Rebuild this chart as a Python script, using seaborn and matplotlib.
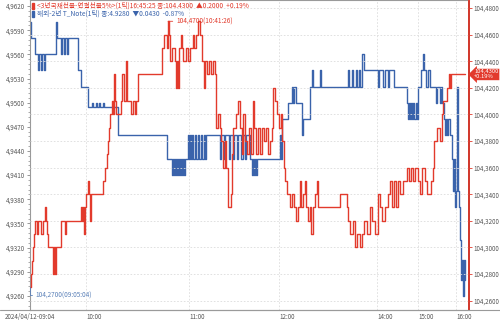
import numpy as np
import pandas as pd
import seaborn as sns
import matplotlib
matplotlib.use("Agg")
import matplotlib.pyplot as plt
from matplotlib import transforms
from matplotlib.patches import Rectangle

# ---- data (x = tick index along the intraday axis) ----
blue_x = [0, 1, 5, 8, 9, 11, 12, 14, 15, 26, 27, 31, 32, 34, 35, 37, 38, 48, 51, 58,
          62, 63, 66, 67, 69, 70, 73, 74, 88, 137, 142, 143, 144, 145, 146, 147, 148, 149, 150,
          151, 152, 153, 154, 155, 158, 159, 160, 161, 162, 163, 165, 166, 168, 169, 171, 172,
          174, 175, 176, 190, 191, 194, 195, 199, 200, 203, 204, 207, 208, 211, 213, 215, 216,
          220, 222, 223, 224, 225, 226, 227, 250, 251, 252, 258, 262, 263, 264, 266, 272, 273,
          280, 282, 283, 290, 291, 318, 319, 322, 323, 326, 327, 329, 330, 332, 334, 348, 349,
          353, 355, 358, 359, 364, 377, 378, 379, 380, 381, 382, 383, 384, 386, 387, 388, 391,
          393, 394, 396, 398, 400, 406, 407, 410, 411, 412, 414, 415, 416, 417, 418, 420, 422,
          423, 424, 425, 426, 427, 428, 429, 430, 431, 432, 433, 434, 435]
blue_y = [4.9600, 4.9580, 4.9560, 4.9540, 4.9560, 4.9540, 4.9560, 4.9540, 4.9560, 4.9600,
          4.9580, 4.9560, 4.9580, 4.9560, 4.9580, 4.9560, 4.9580, 4.9540, 4.9520, 4.9495,
          4.9500, 4.9495, 4.9500, 4.9495, 4.9500, 4.9495, 4.9500, 4.9495, 4.9460, 4.9430,
          4.9410, 4.9430, 4.9410, 4.9430, 4.9410, 4.9430, 4.9410, 4.9430, 4.9410, 4.9430,
          4.9410, 4.9430, 4.9410, 4.9430, 4.9460, 4.9430, 4.9460, 4.9430, 4.9460, 4.9430,
          4.9460, 4.9430, 4.9460, 4.9430, 4.9460, 4.9430, 4.9460, 4.9430, 4.9460, 4.9430,
          4.9460, 4.9430, 4.9460, 4.9430, 4.9460, 4.9430, 4.9460, 4.9430, 4.9460, 4.9430,
          4.9460, 4.9430, 4.9460, 4.9430, 4.9410, 4.9430, 4.9410, 4.9430, 4.9410, 4.9430,
          4.9460, 4.9430, 4.9480, 4.9500, 4.9520, 4.9500, 4.9520, 4.9500, 4.9460, 4.9480,
          4.9520, 4.9540, 4.9520, 4.9540, 4.9520, 4.9540, 4.9520, 4.9540, 4.9520, 4.9540,
          4.9520, 4.9540, 4.9520, 4.9560, 4.9540, 4.9520, 4.9540, 4.9520, 4.9540, 4.9520,
          4.9540, 4.9520, 4.9500, 4.9480, 4.9500, 4.9480, 4.9500, 4.9480, 4.9500, 4.9480,
          4.9500, 4.9480, 4.9520, 4.9540, 4.9560, 4.9540, 4.9520, 4.9540, 4.9520, 4.9500,
          4.9520, 4.9500, 4.9520, 4.9500, 4.9480, 4.9460, 4.9480, 4.9460, 4.9480, 4.9460,
          4.9430, 4.9390, 4.9430, 4.9370, 4.9390, 4.9520, 4.9390, 4.9370, 4.9330, 4.9280,
          4.9305, 4.9260, 4.9305, 4.9280]

red_x = [0, 1, 2, 3, 4, 5, 7, 8, 11, 13, 15, 16, 17, 18, 23, 24, 25, 26, 31, 35,
         36, 51, 52, 53, 54, 55, 56, 58, 59, 60, 61, 73, 75, 77, 78, 79, 80, 82, 83, 84,
         85, 86, 91, 92, 94, 96, 97, 100, 101, 103, 105, 106, 108, 132, 134, 137, 138, 139,
         140, 142, 145, 146, 147, 148, 149, 151, 152, 153, 156, 158, 160, 163, 164, 166, 168,
         170, 172, 174, 175, 177, 179, 181, 183, 185, 186, 188, 190, 191, 193, 195, 196, 198,
         201, 202, 203, 206, 208, 210, 212, 213, 215, 217, 219, 221, 223, 224, 226, 228, 230,
         232, 234, 236, 238, 240, 242, 243, 245, 247, 249, 251, 252, 254, 255, 257, 260, 262,
         264, 266, 268, 270, 271, 273, 275, 276, 278, 280, 281, 283, 285, 287, 288, 310, 317,
         318, 320, 323, 325, 327, 330, 332, 334, 337, 340, 342, 345, 348, 350, 352, 355, 358,
         360, 362, 364, 366, 368, 370, 373, 377, 379, 381, 383, 385, 388, 390, 392, 395, 397,
         401, 403, 404, 407, 410, 412, 413, 417, 419, 420, 421, 435]
red_y = [104.27, 104.28, 104.29, 104.30, 104.31, 104.32, 104.31, 104.32, 104.31, 104.32,
         104.33, 104.32, 104.31, 104.30, 104.28, 104.30, 104.28, 104.30, 104.32, 104.31,
         104.32, 104.33, 104.32, 104.33, 104.31, 104.33, 104.34, 104.35, 104.34, 104.32,
         104.34, 104.35, 104.36, 104.37, 104.38, 104.39, 104.40, 104.41, 104.40, 104.43,
         104.41, 104.40, 104.41, 104.43, 104.41, 104.44, 104.41, 104.41, 104.40, 104.41,
         104.40, 104.41, 104.43, 104.45, 104.46, 104.45, 104.47, 104.46, 104.44, 104.45,
         104.44, 104.42, 104.44, 104.42, 104.45, 104.46, 104.45, 104.44, 104.45, 104.44,
         104.45, 104.46, 104.45, 104.46, 104.47, 104.46, 104.44, 104.42, 104.44, 104.43,
         104.44, 104.43, 104.44, 104.43, 104.39, 104.40, 104.39, 104.38, 104.36, 104.38,
         104.36, 104.33, 104.34, 104.37, 104.39, 104.40, 104.41, 104.39, 104.37, 104.40,
         104.38, 104.37, 104.39, 104.37, 104.41, 104.39, 104.37, 104.39, 104.37, 104.39,
         104.38, 104.39, 104.37, 104.38, 104.39, 104.42, 104.41, 104.40, 104.39, 104.40,
         104.38, 104.36, 104.35, 104.34, 104.33, 104.34, 104.33, 104.32, 104.33, 104.35,
         104.33, 104.34, 104.35, 104.33, 104.32, 104.33, 104.31, 104.33, 104.34, 104.35,
         104.33, 104.34, 104.33, 104.32, 104.31, 104.32, 104.30, 104.31, 104.30, 104.31,
         104.32, 104.31, 104.33, 104.32, 104.31, 104.34, 104.33, 104.32, 104.33, 104.34,
         104.35, 104.33, 104.35, 104.33, 104.35, 104.34, 104.35, 104.36, 104.35, 104.36,
         104.35, 104.36, 104.35, 104.34, 104.36, 104.35, 104.34, 104.35, 104.36, 104.38,
         104.39, 104.38, 104.40, 104.41, 104.42, 104.43, 104.42, 104.43, 104.43]

tick_pos = [0, 56, 159, 249, 347, 388, 426]
tick_labels = ["2024/04/12-09:04", "10:00", "11:00", "12:00", "14:00", "15:00", "16:00"]
left_ticks = [4.9620, 4.9590, 4.9560, 4.9530, 4.9500, 4.9470, 4.9440, 4.9410,
              4.9380, 4.9350, 4.9320, 4.9290, 4.9260]
right_ticks = [104.48, 104.46, 104.44, 104.42, 104.40, 104.38, 104.36,
               104.34, 104.32, 104.30, 104.28, 104.26]

title_red = "<3년국채선물-연결선물5%>(1틱)16:45:25 종:104.4300  ▲0.2000  +0.19%"
title_blue = "해외-2년 T_Note(1틱) 종:4.9280  ▼0.0430  -0.87%"
max_label = "104,4700(10:41:26)"
min_label = "104,2700(09:05:04)"
last_label = "104,4300\n+0.19%"

RED = "#e23a2c"
BLUE = "#3a63ab"
TXT = "#555555"

sns.set_theme(style="white")
plt.rcParams["font.family"] = ["Noto Sans CJK KR", "DejaVu Sans"]

blue = pd.DataFrame({"x": blue_x, "y": blue_y})
red = pd.DataFrame({"x": red_x, "y": red_y})

fig = plt.figure(figsize=(5.0, 3.21), dpi=100)
ax = fig.add_axes([30 / 500, 11 / 321, 439 / 500, 310 / 321])
ax2 = ax.twinx()

sns.lineplot(data=blue, x="x", y="y", ax=ax, color=BLUE, linewidth=1.0,
             drawstyle="steps-post", estimator=None)
sns.lineplot(data=red, x="x", y="y", ax=ax2, color=RED, linewidth=1.0,
             drawstyle="steps-post", estimator=None)

ax.set_xlim(0, 439)
ax.set_ylim(4.92425, 4.96275)
ax2.set_ylim(104.2529, 104.486)

ax.set_xticks(tick_pos)
ax.set_xticklabels(tick_labels, fontsize=4.5, color=TXT)
for lbl in ax.get_xticklabels()[1:]:
    lbl.set_horizontalalignment("left")
ax.set_yticks(left_ticks)
ax.set_yticklabels([f"{v:.4f}".replace(".", ",") for v in left_ticks], fontsize=4.5, color=TXT)
ax.set_yticks(np.arange(4.9248, 4.9626, 0.0006), minor=True)
ax2.set_yticks(right_ticks)
ax2.set_yticklabels([f"{v:.4f}".replace(".", ",") for v in right_ticks], fontsize=4.5, color=TXT)

ax.set_xlabel("")
ax.set_ylabel("")
ax2.set_ylabel("")

ax.tick_params(axis="x", direction="out", length=2, width=0.6, color="#888888", pad=0.3)
ax.tick_params(axis="y", which="major", direction="out", length=2.5, width=0.6, color="#888888", pad=1)
ax.tick_params(axis="y", which="minor", direction="out", length=1.5, width=0.5, color="#888888", left=True)
ax2.tick_params(axis="y", direction="out", length=2, width=0.6, color=RED, pad=1)

ax.grid(axis="x", color="#dcdcdc", linestyle=(0, (2, 2)), linewidth=0.6)
ax2.grid(axis="y", color="#dcdcdc", linestyle=(0, (2, 2)), linewidth=0.6)
ax.set_axisbelow(True)
ax2.set_axisbelow(True)

for sp in ["left", "top", "bottom"]:
    ax.spines[sp].set_color("#9a9a9a")
    ax.spines[sp].set_linewidth(0.8)
ax2.spines["right"].set_color(RED)
ax2.spines["right"].set_linewidth(1.3)
for sp in ["left", "top", "bottom"]:
    ax2.spines[sp].set_visible(False)

# bottom frame line across the figure
fig.add_artist(plt.Line2D([0, 1], [11 / 321, 11 / 321], transform=fig.transFigure,
                          color="#9a9a9a", linewidth=0.8))

# header lines
fig.patches.append(Rectangle((32 / 500, 1 - 9 / 321), 2 / 500, 6 / 321,
                             transform=fig.transFigure, color=RED))
fig.patches.append(Rectangle((32 / 500, 1 - 17 / 321), 2 / 500, 6 / 321,
                             transform=fig.transFigure, color=BLUE))
fig.text(37 / 500, 1 - 6 / 321, title_red, fontsize=4.8, color=RED, va="center", ha="left")
fig.text(37 / 500, 1 - 14 / 321, title_blue, fontsize=4.8, color=BLUE, va="center", ha="left")

# max / min annotations for the red series
imax = int(np.argmax(red_y))
ax2.annotate(max_label, xy=(red_x[imax], red_y[imax]), xytext=(8, 0),
             textcoords="offset pixels", fontsize=4.6, color=RED, va="center", ha="left",
             arrowprops=dict(arrowstyle="-", color=RED, lw=0.6, shrinkA=0, shrinkB=0))
imin = int(np.argmin(red_y))
ax2.annotate(min_label, xy=(red_x[imin], red_y[imin]), xytext=(5, -8),
             textcoords="offset pixels", fontsize=4.6, color="#5a80b8", va="center", ha="left",
             arrowprops=dict(arrowstyle="-", color="#5a80b8", lw=0.6, shrinkA=0, shrinkB=0,
                             connectionstyle="angle,angleA=0,angleB=90,rad=0"))

# last value tag on the right axis
tr = transforms.blended_transform_factory(ax2.transAxes, ax2.transData)
ax2.text(1.012, red_y[-1], last_label, transform=tr, fontsize=4.2, color="white",
         ha="left", va="center", linespacing=1.0,
         bbox=dict(boxstyle="larrow,pad=0.12", fc=RED, ec="none"))

fig.savefig("out.png", dpi=100)
